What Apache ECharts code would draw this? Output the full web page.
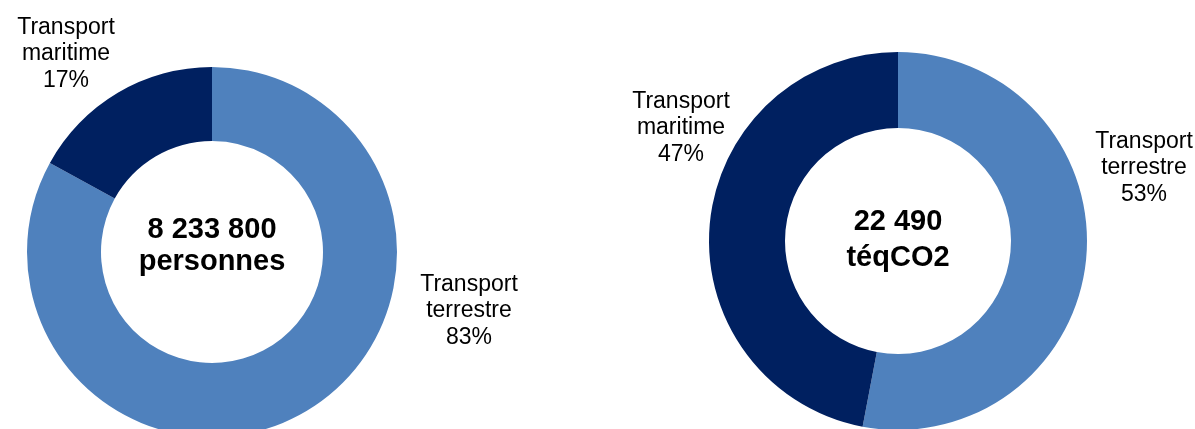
<!DOCTYPE html>
<html>
<head>
<meta charset="utf-8">
<script src="https://cdn.jsdelivr.net/npm/echarts@6/dist/echarts.min.js"></script>
<style>
  html, body { margin: 0; padding: 0; background: #ffffff; }
  #chart { width: 1195px; height: 429px; }
</style>
</head>
<body>
<div id="chart"></div>
<script>
// Modes de transport (ordre des secteurs, sens horaire depuis midi)
const categories = ['Transport terrestre', 'Transport maritime'];
// Répartition des passagers (%)
const passengersShare = [83, 17];
// Répartition des émissions (%)
const emissionsShare = [53, 47];
// Totaux affichés au centre de chaque anneau
const totals = ['8 233 800\npersonnes', '22 490\ntéqCO2'];

const colors = ['#4F81BD', '#002060'];
const font = 'Liberation Sans, Arial, sans-serif';

// Position des étiquettes de chaque anneau
const labelPos = [
  [[469, 311], [66, 54]],
  [[1144, 168], [681, 128]]
];

function donut(values, center, radius, idx) {
  return {
    type: 'pie',
    center: center,
    radius: radius,
    startAngle: 90,
    clockwise: true,
    animation: false,
    silent: true,
    avoidLabelOverlap: false,
    data: categories.map((name, i) => ({
      name: name,
      value: values[i],
      itemStyle: { color: colors[i] }
    })),
    label: {
      show: true,
      position: 'outside',
      formatter: p => p.name.replace(' ', '\n') + '\n' + p.value + '%',
      fontFamily: font,
      fontSize: 23,
      lineHeight: 26.5,
      color: '#000000',
      align: 'center',
      overflow: 'none',
      width: 200
    },
    labelLine: { show: false },
    labelLayout: p => ({
      x: labelPos[idx][p.dataIndex][0],
      y: labelPos[idx][p.dataIndex][1],
      align: 'center',
      verticalAlign: 'middle'
    })
  };
}

const chart = echarts.init(document.getElementById('chart'), null, { renderer: 'canvas' });
chart.setOption({
  backgroundColor: '#ffffff',
  animation: false,
  series: [
    donut(passengersShare, [212, 252], [111, 185], 0),
    donut(emissionsShare, [898, 241], [113, 189], 1)
  ],
  graphic: [
    {
      type: 'text', x: 212, y: 246,
      style: {
        text: totals[0], align: 'center', verticalAlign: 'middle',
        fontFamily: font, fontWeight: 'bold', fontSize: 29, lineHeight: 32,
        fill: '#000000'
      }
    },
    {
      type: 'text', x: 898, y: 240,
      style: {
        text: totals[1], align: 'center', verticalAlign: 'middle',
        fontFamily: font, fontWeight: 'bold', fontSize: 29, lineHeight: 36,
        fill: '#000000'
      }
    }
  ]
});
</script>
</body>
</html>
